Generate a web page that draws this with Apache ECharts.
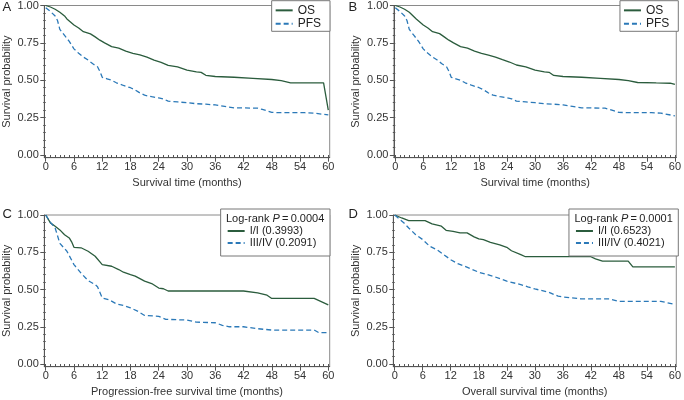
<!DOCTYPE html>
<html><head><meta charset="utf-8">
<script src="https://cdn.jsdelivr.net/npm/echarts@6/dist/echarts.min.js"></script>
<style>html,body{margin:0;padding:0;background:#fff}#c{width:684px;height:400px}</style>
</head><body><div id="c"></div>
<script>
// ---- tick labels ----
const xTicks = [0, 6, 12, 18, 24, 30, 36, 42, 48, 54, 60];
const xMinor = [0,1,2,3,4,5,6,7,8,9,10,11,12,13,14,15,16,17,18,19,20,21,22,23,24,25,26,27,28,29,30,31,32,33,34,35,36,37,38,39,40,41,42,43,44,45,46,47,48,49,50,51,52,53,54,55,56,57,58,59,60];
const yTicks = [0, 0.25, 0.5, 0.75, 1];
const yMinor = [0,0.05,0.1,0.15,0.2,0.25,0.3,0.35,0.4,0.45,0.5,0.55,0.6,0.65,0.7,0.75,0.8,0.85,0.9,0.95,1];

// ---- series values [month, survival probability] ----
const A_OS = [[0,1],[1,0.99],[2,0.975],[3,0.955],[4,0.93],[4.5,0.91],[6,0.87],[7,0.85],[8,0.825],[9.5,0.81],[10.5,0.79],[11.5,0.768],[12.5,0.75],[14,0.725],[15.5,0.715],[17,0.695],[18.5,0.68],[20,0.67],[21.5,0.655],[23,0.635],[24.5,0.62],[26,0.6],[28,0.59],[30,0.568],[32,0.556],[33,0.553],[34,0.533],[36,0.525],[40,0.52],[44,0.513],[48,0.505],[50,0.498],[52,0.483],[54,0.482],[59,0.482],[60,0.30]];
const A_PFS = [[0,0.985],[1,0.96],[2,0.93],[2.5,0.9],[3,0.84],[4,0.8],[5,0.76],[6,0.71],[7,0.68],[8,0.655],[9,0.635],[10,0.61],[11,0.59],[11.5,0.56],[12,0.52],[13,0.51],[14,0.5],[15,0.483],[16.5,0.465],[18,0.45],[19,0.435],[20,0.415],[21,0.4],[22.5,0.39],[24,0.382],[25,0.375],[26,0.36],[28,0.355],[30,0.35],[32,0.343],[34,0.34],[36,0.335],[38,0.325],[40,0.315],[42,0.315],[45,0.313],[46,0.305],[47,0.295],[48,0.285],[50,0.283],[55,0.283],[57,0.28],[60,0.268]];
const B_OS = [[0,1],[1,0.99],[2,0.975],[3,0.955],[4,0.925],[4.5,0.91],[6,0.87],[7,0.85],[8,0.825],[9.5,0.812],[10.5,0.79],[11.5,0.768],[12.5,0.75],[14,0.725],[15.5,0.715],[17,0.695],[18.5,0.68],[20,0.668],[21.5,0.655],[23,0.638],[24.5,0.622],[26,0.602],[28,0.59],[30,0.568],[32,0.556],[33,0.553],[34,0.532],[36,0.525],[40,0.52],[44,0.513],[48,0.505],[50,0.497],[52,0.485],[56,0.482],[59,0.48],[60,0.472]];
const B_PFS = [[0,0.985],[1,0.96],[2,0.93],[2.5,0.9],[3,0.84],[4,0.8],[5,0.76],[6,0.71],[7,0.68],[8,0.655],[9,0.635],[10,0.61],[11,0.59],[11.5,0.56],[12,0.52],[13,0.51],[14,0.5],[15,0.483],[16.5,0.465],[18,0.45],[19,0.435],[20,0.415],[21,0.4],[22.5,0.39],[24,0.382],[25,0.375],[26,0.36],[28,0.355],[30,0.35],[32,0.343],[34,0.34],[36,0.335],[38,0.325],[40,0.315],[42,0.315],[45,0.313],[46,0.305],[47,0.295],[48,0.285],[50,0.283],[55,0.283],[57,0.28],[60,0.262]];
const C_I = [[0,1],[1,0.947],[2,0.925],[3,0.9],[4,0.868],[5,0.846],[5.5,0.82],[6,0.783],[7.5,0.78],[9,0.757],[10.5,0.723],[12,0.667],[14,0.656],[15.5,0.634],[16.5,0.616],[18,0.6],[19,0.59],[21,0.556],[22.5,0.54],[24,0.51],[25,0.505],[26,0.49],[42,0.49],[45,0.478],[47,0.462],[48,0.44],[57,0.44],[60,0.397]];
const C_III = [[0,1],[1,0.95],[2,0.913],[3,0.81],[4.5,0.757],[6,0.667],[7.5,0.61],[9,0.56],[10.5,0.533],[11,0.518],[12,0.444],[13.5,0.43],[15,0.404],[16.5,0.393],[18,0.377],[19.5,0.355],[21,0.326],[24,0.32],[25.5,0.3],[30,0.295],[32,0.281],[36,0.277],[37.5,0.26],[39,0.25],[42,0.25],[45,0.237],[48,0.228],[57,0.228],[58,0.21],[60,0.21]];
const D_I = [[0,1],[1.5,0.98],[3,0.962],[6.5,0.962],[8,0.94],[10,0.925],[11,0.897],[12.5,0.89],[14,0.88],[15.5,0.88],[17,0.853],[18,0.84],[19,0.835],[20.5,0.817],[22.5,0.8],[24,0.783],[25,0.76],[27,0.734],[28,0.72],[42,0.72],[43,0.705],[44.5,0.69],[50,0.69],[51,0.652],[60,0.652]];
const D_III = [[0,1],[2,0.946],[3,0.913],[4.5,0.868],[6,0.835],[7.5,0.79],[9,0.768],[10.5,0.734],[12,0.7],[13.5,0.674],[15,0.656],[18,0.616],[21,0.59],[24,0.556],[27,0.533],[28.5,0.518],[30,0.504],[33,0.482],[35,0.455],[36,0.45],[40,0.437],[46,0.437],[48,0.42],[57,0.42],[60,0.4]];

const legendAB = ['OS', 'PFS'];
const legendC = ['I/I (0.3993)', 'III/IV (0.2091)'];
const legendD = ['I/I (0.6523)', 'III/IV (0.4021)'];
const pC = '0.0004', pD = '0.0001';
const xNames = ['Survival time (months)', 'Survival time (months)', 'Progression-free survival time (months)', 'Overall survival time (months)'];
const yName = 'Survival probability';
const letters = ['A', 'B', 'C', 'D'];

// ---- styles / layout ----
const FONT = "'Liberation Sans', Arial, Helvetica, sans-serif";
const GREEN = '#2b5c3d', BLUE = '#2b79b8';
const AX = '#555', FRAME = '#8a8a8a', TXT = '#333';
const grids = [
  {left: 44.3, top: 5, width: 285.4, height: 152.7},
  {left: 393.9, top: 5, width: 284.5, height: 152.7},
  {left: 44.3, top: 215, width: 285.4, height: 151.7},
  {left: 393.3, top: 215, width: 285, height: 151.7}
];
const yMinVal = -0.018, xMinVal = -0.3, xMaxVal = 60.3;

const xAxes = [], yAxes = [];
grids.forEach((g, i) => {
  xAxes.push({gridIndex: i, type: 'value', position: 'bottom', min: xMinVal, max: xMaxVal,
    axisLine: {show: true, onZero: false, lineStyle: {color: AX, width: 1}},
    axisTick: {show: true, customValues: xTicks, length: 4, lineStyle: {color: AX}},
    axisLabel: {show: true, customValues: xTicks, margin: 4, fontSize: 11, color: TXT, fontFamily: FONT},
    splitLine: {show: false},
    name: xNames[i], nameLocation: 'middle', nameGap: 20,
    nameTextStyle: {fontSize: 11, color: TXT, fontFamily: FONT}});
  xAxes.push({gridIndex: i, type: 'value', position: 'bottom', min: xMinVal, max: xMaxVal,
    axisLine: {show: false}, axisLabel: {show: false}, splitLine: {show: false},
    axisTick: {show: true, customValues: xMinor, length: 2.5, lineStyle: {color: AX}}});
  yAxes.push({gridIndex: i, type: 'value', position: 'left', min: yMinVal, max: 1,
    axisLine: {show: true, onZero: false, lineStyle: {color: AX, width: 1}},
    axisTick: {show: true, customValues: yTicks, length: 4, lineStyle: {color: AX}},
    axisLabel: {show: true, customValues: yTicks, margin: 5.5, fontSize: 11, color: TXT, fontFamily: FONT,
      formatter: v => v.toFixed(2)},
    splitLine: {show: false},
    name: yName, nameLocation: 'middle', nameGap: 32, nameRotate: 90,
    nameTextStyle: {fontSize: 11, color: TXT, fontFamily: FONT}});
  yAxes.push({gridIndex: i, type: 'value', position: 'left', min: yMinVal, max: 1,
    axisLine: {show: false}, axisLabel: {show: false}, splitLine: {show: false},
    axisTick: {show: true, customValues: yMinor, length: 2.5, lineStyle: {color: AX}}});
});

function km(name, data, i, color, dashed) {
  return {type: 'line', name, data, xAxisIndex: 2 * i, yAxisIndex: 2 * i,
    symbol: 'none', showSymbol: false, silent: true, z: 3,
    lineStyle: {color, width: 1.3, type: dashed ? [5, 3] : 'solid'},
    itemStyle: {color}};
}
const series = [
  km('OS', A_OS, 0, GREEN, false), km('PFS', A_PFS, 0, BLUE, true),
  km('OS', B_OS, 1, GREEN, false), km('PFS', B_PFS, 1, BLUE, true),
  km(legendC[0], C_I, 2, GREEN, false), km(legendC[1], C_III, 2, BLUE, true),
  km(legendD[0], D_I, 3, GREEN, false), km(legendD[1], D_III, 3, BLUE, true)
];

const legBase = {orient: 'vertical', itemWidth: 17, itemHeight: 8, itemGap: 0,
  borderColor: '#777', borderWidth: 1, backgroundColor: '#fff', borderRadius: 0,
  selectedMode: false, inactiveColor: '#333',
  itemStyle: {opacity: 0, color: 'rgba(0,0,0,0)', borderWidth: 0}};
const legends = [
  Object.assign({}, legBase, {data: legendAB, right: 354, top: 0.7, padding: [3, 9, 1, 3],
    textStyle: {fontSize: 12, lineHeight: 13.3, color: '#222', fontFamily: FONT}}),
  Object.assign({}, legBase, {data: legendAB, right: 5.7, top: 0.7, padding: [3, 9, 1, 3],
    textStyle: {fontSize: 12, lineHeight: 13.3, color: '#222', fontFamily: FONT}}),
  Object.assign({}, legBase, {data: legendC, right: 354, top: 209, padding: [16, 13.7, 7, 6],
    textStyle: {fontSize: 11, lineHeight: 12, color: '#222', fontFamily: FONT}}),
  Object.assign({}, legBase, {data: legendD, right: 5.7, top: 209, padding: [16, 13.7, 7, 6],
    textStyle: {fontSize: 11, lineHeight: 12, color: '#222', fontFamily: FONT}})
];

const richHdr = {n: {fontSize: 11, color: '#222', fontFamily: FONT, fontWeight: 'normal', lineHeight: 12},
  i: {fontSize: 11, color: '#222', fontFamily: FONT, fontWeight: 'normal', fontStyle: 'italic', lineHeight: 12}};
const letterPos = [[2.5, 1], [348.5, 1], [2.5, 208], [348.5, 208]];
const titles = letters.map((t, i) => ({text: t, left: letterPos[i][0], top: letterPos[i][1], padding: 0,
  textStyle: {fontSize: 13, fontWeight: 'normal', color: '#222', fontFamily: FONT, lineHeight: 13}}));
titles.push({text: '{n|Log-rank }{i|P}{n|\u2009=\u2009' + pC + '}', left: 226, top: 213, padding: 0,
  textStyle: {fontWeight: 'normal', fontSize: 11, rich: richHdr}});
titles.push({text: '{n|Log-rank }{i|P}{n|\u2009=\u2009' + pD + '}', left: 574.5, top: 213, padding: 0,
  textStyle: {fontWeight: 'normal', fontSize: 11, rich: richHdr}});

const chart = echarts.init(document.getElementById('c'), null, {renderer: 'canvas'});
chart.setOption({
  animation: false,
  backgroundColor: '#fff',
  title: titles,
  legend: legends,
  grid: grids.map(g => Object.assign({show: true, borderColor: FRAME, borderWidth: 1, backgroundColor: 'transparent', containLabel: false}, g)),
  xAxis: xAxes,
  yAxis: yAxes,
  series: series
});
</script>
</body></html>
